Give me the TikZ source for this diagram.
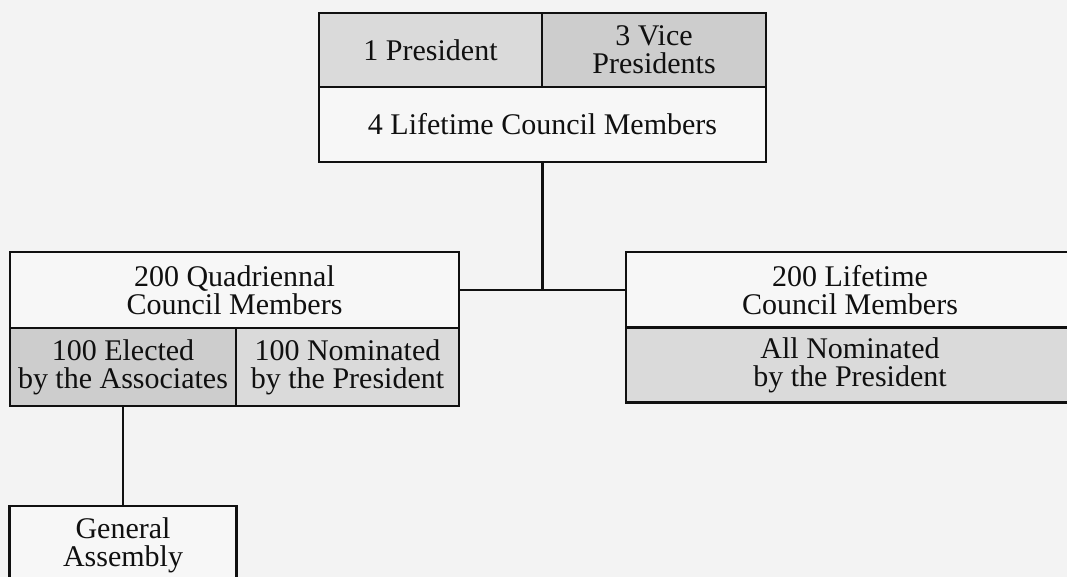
\documentclass[tikz,border=0pt]{standalone}
\usepackage{fontspec}
\setmainfont{Liberation Serif}
\definecolor{bgc}{HTML}{F3F3F3}
\definecolor{cellw}{HTML}{F7F7F7}
\definecolor{grayA}{HTML}{DADADA}
\definecolor{grayB}{HTML}{CDCDCD}
\definecolor{inkc}{HTML}{101010}
\tikzset{
  cell/.style={draw=inkc, line width=2.5pt, inner sep=0pt, rectangle,
    align=center, text=inkc, font=\fontsize{30}{28}\selectfont},
  link/.style={draw=inkc, line width=2.3pt}
}
\begin{document}
\begin{tikzpicture}[x=1pt,y=-1pt]
\useasboundingbox (0,0) rectangle (1067,577);
\fill[bgc] (0,0) rectangle (1067,577);
\clip (0,0) rectangle (1067,577);
% top box
\node[cell, fill=grayA, minimum width=223pt, minimum height=74pt] (pres) at (430.5,50) {1 President};
\node[cell, fill=grayB, minimum width=224pt, minimum height=74pt] (vice) at (654,50) {3 Vice\\Presidents};
\node[cell, fill=cellw, minimum width=447pt, minimum height=75pt] (ltc) at (542.5,124.5) {4 Lifetime Council Members};
% left box
\node[cell, fill=cellw, minimum width=449pt, minimum height=76pt] (quad) at (234.5,290) {200 Quadriennal\\Council Members};
\node[cell, fill=grayB, minimum width=226pt, minimum height=78pt] (elect) at (123,367) {100 Elected\\by the Associates};
\node[cell, fill=grayA, minimum width=223pt, minimum height=78pt] (nomq) at (347.5,367) {100 Nominated\\by the President};
% right box
\node[cell, fill=cellw, minimum width=448pt, minimum height=76pt] (lt200) at (850,290) {200 Lifetime\\Council Members};
\node[cell, fill=grayA, minimum width=448pt, minimum height=75pt] (alln) at (850,365) {All Nominated\\by the President};
% general assembly
\node[cell, fill=cellw, minimum width=227pt, minimum height=78pt] (ga) at (123,545) {General\\Assembly};
% connectors
\coordinate (jn) at (ltc.south |- quad.east);
\draw[link] (quad.east) -- (lt200.west);
\draw[link] (ltc.south) -- (jn);
\draw[link] (elect.south) -- (ga.north);
\end{tikzpicture}
\end{document}
